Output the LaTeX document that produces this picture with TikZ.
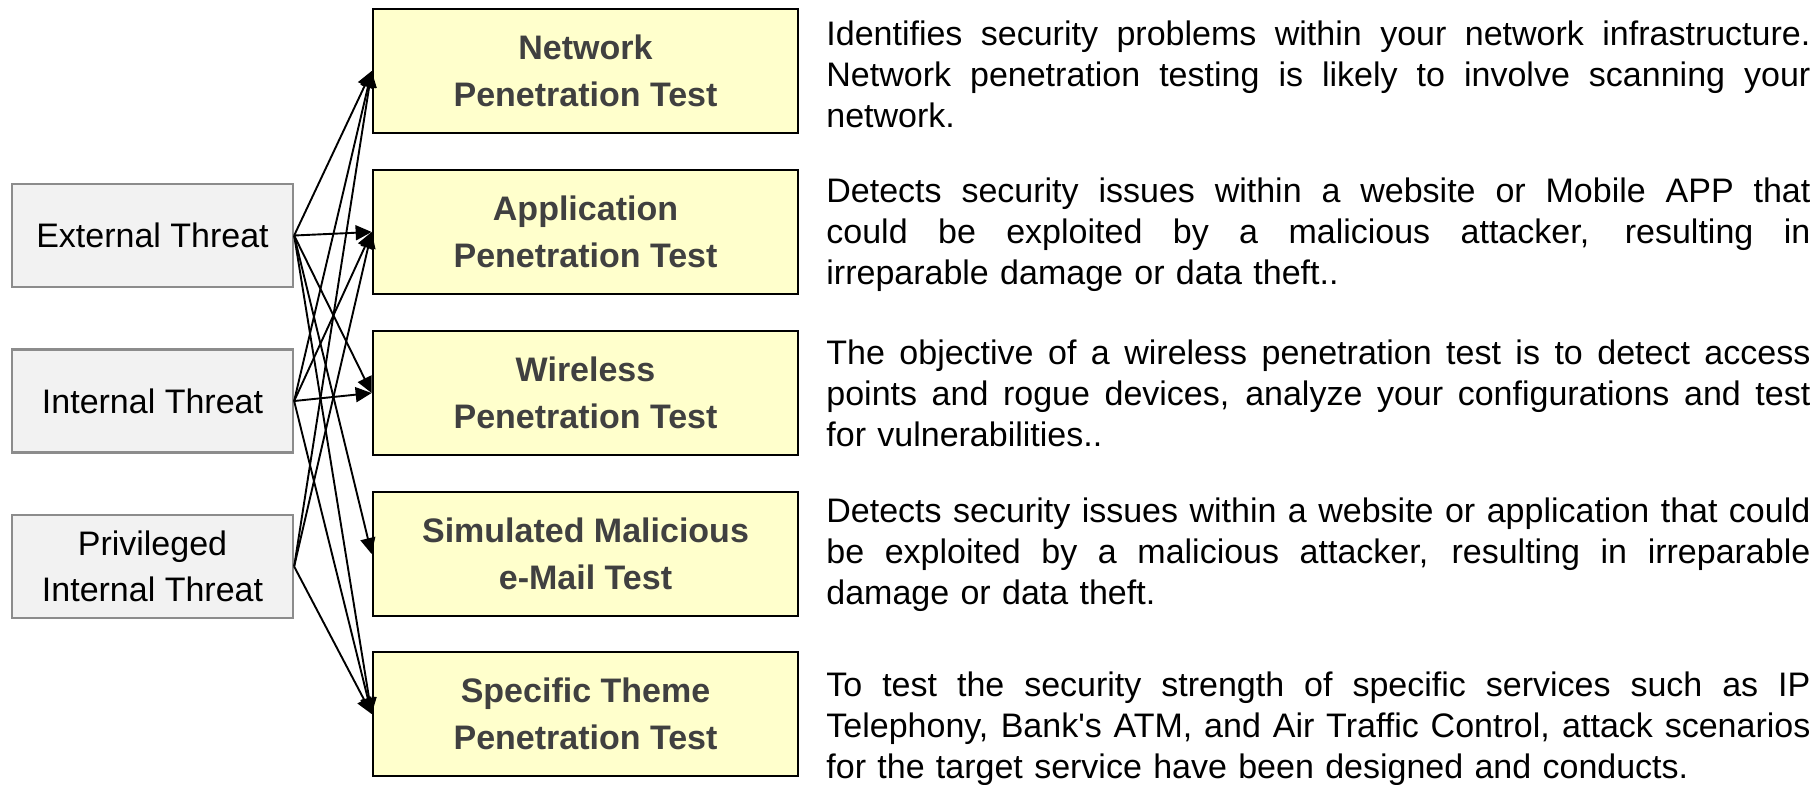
\documentclass[tikz,border=0pt]{standalone}
\usepackage{fontspec}
\setmainfont{Liberation Sans}
\usetikzlibrary{arrows.meta}
\definecolor{threatfill}{HTML}{F2F2F2}
\definecolor{threatborder}{HTML}{8C8C8C}
\definecolor{testfill}{HTML}{FFFFCC}
\definecolor{titlegray}{HTML}{404040}
% one fully justified line of a description
\newcommand{\justline}[1]{\leavevmode\hbox to 492pt{\spaceskip=0.278em plus 1fil\relax #1}}
\begin{document}
\begin{tikzpicture}[x=0.5pt,y=-0.5pt,
  threat/.style={draw=threatborder, line width=1.15pt, fill=threatfill,
    minimum width=140.5pt, minimum height=51.5pt, inner sep=0pt,
    align=center, font=\fontsize{17}{23.3}\selectfont, text=black},
  test/.style={draw=black, line width=1.35pt, fill=testfill,
    minimum width=212.5pt, minimum height=62pt, inner sep=0pt,
    align=center, font=\bfseries\fontsize{17}{23.5}\selectfont, text=titlegray},
  desc/.style={anchor=west, inner sep=0pt, text width=492pt, align=left,
    font=\fontsize{17}{20.5}\selectfont, text=black},
  link/.style={line width=0.95pt, -{Triangle[length=8pt,width=7.5pt]}}
]
\useasboundingbox (0,0) rectangle (1820,784);

% threat sources
\node[threat] (ext) at (152.5,235.5) {External Threat};
\node[threat] (int) at (152.5,401) {Internal Threat};
\node[threat] (pri) at (152.5,566.5) {Privileged\\Internal Threat};

% test types
\node[test] (net) at (585.5,71)  {Network\\Penetration Test};
\node[test] (app) at (585.5,232) {Application\\Penetration Test};
\node[test] (wir) at (585.5,393) {Wireless\\Penetration Test};
\node[test] (sim) at (585.5,554) {Simulated Malicious\\e-Mail Test};
\node[test] (spe) at (585.5,714) {Specific Theme\\Penetration Test};

% descriptions
\node[desc] (dnet) at (826,74) {\justline{Identifies security problems within your network infrastructure.}\\
\justline{Network penetration testing is likely to involve scanning your}\\
network.};
\node[desc] (dapp) at (826,235) {\justline{Detects security issues within a website or Mobile APP that}\\
\justline{could be exploited by a malicious attacker, resulting in}\\
irreparable damage or data theft..};
\node[desc] (dwir) at (826,393) {\justline{The objective of a wireless penetration test is to detect access}\\
\justline{points and rogue devices, analyze your configurations and test}\\
for vulnerabilities..};
\node[desc] (dsim) at (826,555) {\justline{Detects security issues within a website or application that could}\\
\justline{be exploited by a malicious attacker, resulting in irreparable}\\
damage or data theft.};
\node[desc] (dspe) at (826,729) {\justline{To test the security strength of specific services such as IP}\\
\justline{Telephony, Bank\textquotesingle s ATM, and Air Traffic Control, attack scenarios}\\
for the target service have been designed and conducts.};

% threat-to-test links
\foreach \t in {net,app,wir,sim,spe}
  \draw[link] (ext.east) -- (\t.west);
\foreach \t in {net,app,wir,spe}
  \draw[link] (int.east) -- (\t.west);
\foreach \t in {net,app,spe}
  \draw[link] (pri.east) -- (\t.west);
\end{tikzpicture}
\end{document}
